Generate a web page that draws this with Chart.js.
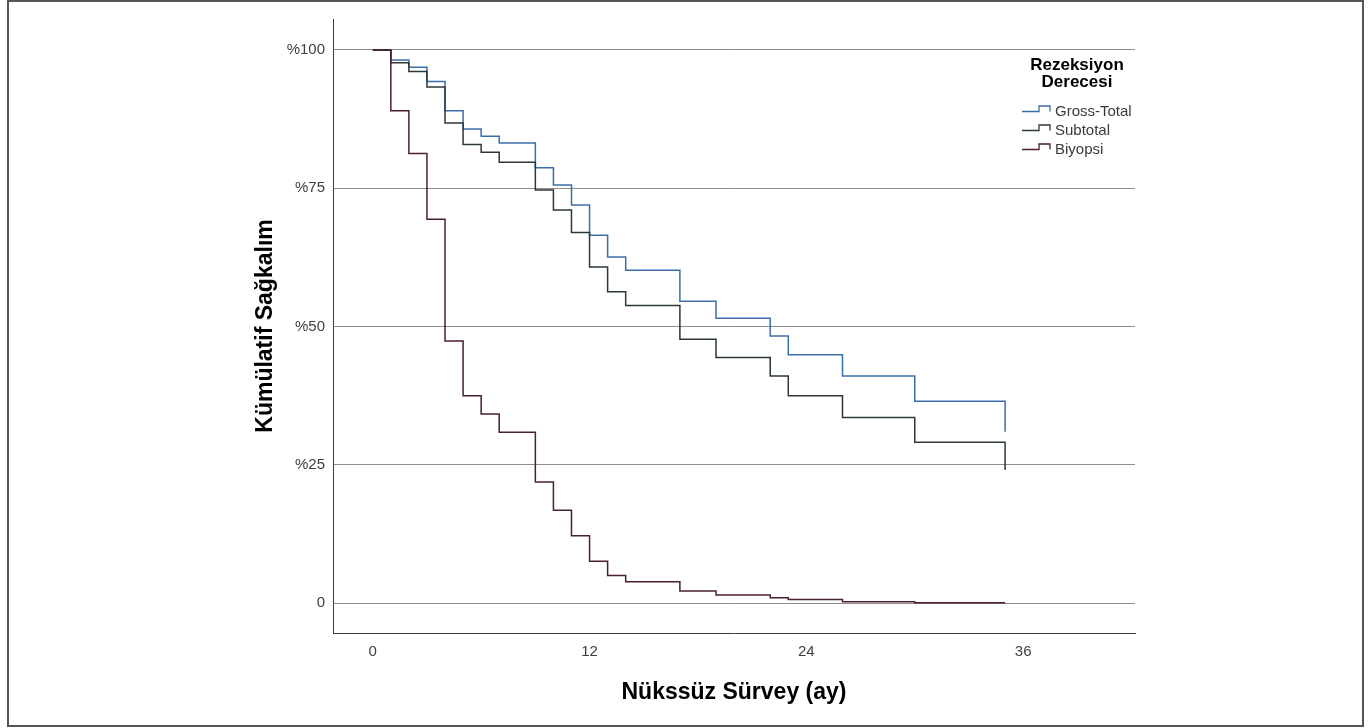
<!DOCTYPE html>
<html>
<head>
<meta charset="utf-8">
<script src="https://cdn.jsdelivr.net/npm/chart.js@4.4.1/dist/chart.umd.min.js"></script>
<style>
  html, body { margin: 0; padding: 0; background: #ffffff; }
  #wrap { position: relative; width: 1371px; height: 728px; }
  canvas { display: block; }
</style>
</head>
<body>
<div id="wrap"><canvas id="c" width="1371" height="728"></canvas></div>
<script>
// ---- Data ----
const months      = [0, 1, 2, 3, 4, 5, 6, 7, 9, 10, 11, 12, 13, 14, 17, 19, 22, 23, 26, 30, 35];
const grossTotal  = [100, 98.2, 96.9, 94.3, 89.0, 85.7, 84.4, 83.2, 78.7, 75.6, 72.0, 66.5, 62.6, 60.2, 54.6, 51.5, 48.3, 44.9, 41.1, 36.5, 31.0];
const subtotal    = [100, 97.7, 96.1, 93.3, 86.8, 82.9, 81.5, 79.7, 74.7, 71.1, 67.0, 60.8, 56.3, 53.8, 47.7, 44.4, 41.1, 37.5, 33.6, 29.1, 24.1];
const biyopsi     = [100, 89.0, 81.3, 69.4, 47.4, 37.5, 34.2, 30.9, 21.9, 16.8, 12.2, 7.6, 5.0, 3.9, 2.2, 1.5, 1.0, 0.7, 0.3, 0.1, 0.1];
const seriesNames = ['Gross-Total', 'Subtotal', 'Biyopsi'];
const xTickValues = [0, 12, 24, 36];
const yTickValues = [0, 25, 50, 75, 100];
const yTickLabels = ['0', '%25', '%50', '%75', '%100'];
const legendTitle = ['Rezeksiyon', 'Derecesi'];
const xTitle = 'Nükssüz Sürvey (ay)';
const yTitle = 'Kümülatif Sağkalım';

const colors = ['#3b6ea8', '#2c3838', '#4a1f30'];
const FONT = '"Liberation Sans", Arial, sans-serif';

function toPoints(values) { return months.map((m, i) => ({ x: m, y: values[i] })); }

const datasets = [grossTotal, subtotal, biyopsi].map((vals, i) => ({
  label: seriesNames[i],
  data: toPoints(vals),
  borderColor: colors[i],
  backgroundColor: colors[i],
  borderWidth: 1.5,
  pointRadius: 0,
  pointHoverRadius: 0,
  stepped: 'before',
  fill: false,
  order: 3 - i
}));

const decorPlugin = {
  id: 'decor',
  afterDraw(chart) {
    const ctx = chart.ctx;
    ctx.save();
    // outer frame
    ctx.strokeStyle = '#555555';
    ctx.lineWidth = 2;
    ctx.strokeRect(8, 1, 1355, 725);
    // legend title
    ctx.fillStyle = '#000000';
    ctx.font = 'bold 17px ' + FONT;
    ctx.textAlign = 'center';
    ctx.textBaseline = 'middle';
    ctx.fillText(legendTitle[0], 1077, 65);
    ctx.fillText(legendTitle[1], 1077, 82.5);
    // legend items
    const ys = [111, 130, 149];
    ctx.font = '15px ' + FONT;
    ctx.textAlign = 'left';
    seriesNames.forEach((name, i) => {
      const yc = ys[i];
      ctx.strokeStyle = colors[i];
      ctx.lineWidth = 1.3;
      ctx.beginPath();
      ctx.moveTo(1022, yc + 0.5);
      ctx.lineTo(1039, yc + 0.5);
      ctx.lineTo(1039, yc - 5);
      ctx.lineTo(1050, yc - 5);
      ctx.lineTo(1050, yc + 0.5);
      ctx.stroke();
      ctx.fillStyle = '#3a3a3a';
      ctx.fillText(name, 1055, yc + 0.5);
    });
    ctx.restore();
  }
};

new Chart(document.getElementById('c'), {
  type: 'line',
  data: { datasets },
  plugins: [decorPlugin],
  options: {
    responsive: false,
    animation: false,
    events: [],
    layout: { padding: { top: 19, right: 236, bottom: 0, left: 0 } },
    plugins: { legend: { display: false }, tooltip: { enabled: false } },
    scales: {
      x: {
        type: 'linear',
        min: -2.2,
        max: 42.19,
        afterFit(s) { s.height = 95; },
        afterBuildTicks(s) { s.ticks = xTickValues.map(v => ({ value: v })); },
        grid: { display: false, drawTicks: false },
        border: { display: true, color: '#3c3c3c', width: 1 },
        ticks: {
          padding: 10,
          maxRotation: 0,
          color: '#404040',
          font: { family: FONT, size: 15 },
          callback: v => String(v)
        },
        title: {
          display: true,
          text: xTitle,
          color: '#000000',
          font: { family: FONT, size: 23, weight: 'bold' },
          padding: { top: 0, bottom: 22 }
        }
      },
      y: {
        type: 'linear',
        min: -5.37,
        max: 105.6,
        afterFit(s) { s.width = 333; },
        afterBuildTicks(s) { s.ticks = yTickValues.map(v => ({ value: v })); },
        grid: { display: true, drawTicks: false, color: '#8c8c8c', lineWidth: 1 },
        border: { display: true, color: '#3c3c3c', width: 1 },
        ticks: {
          padding: 8,
          color: '#404040',
          font: { family: FONT, size: 15 },
          callback: v => yTickLabels[yTickValues.indexOf(v)]
        },
        title: {
          display: true,
          text: yTitle,
          color: '#000000',
          font: { family: FONT, size: 23, weight: 'bold' },
          padding: { top: 252, bottom: 0 }
        }
      }
    }
  }
});
</script>
</body>
</html>
